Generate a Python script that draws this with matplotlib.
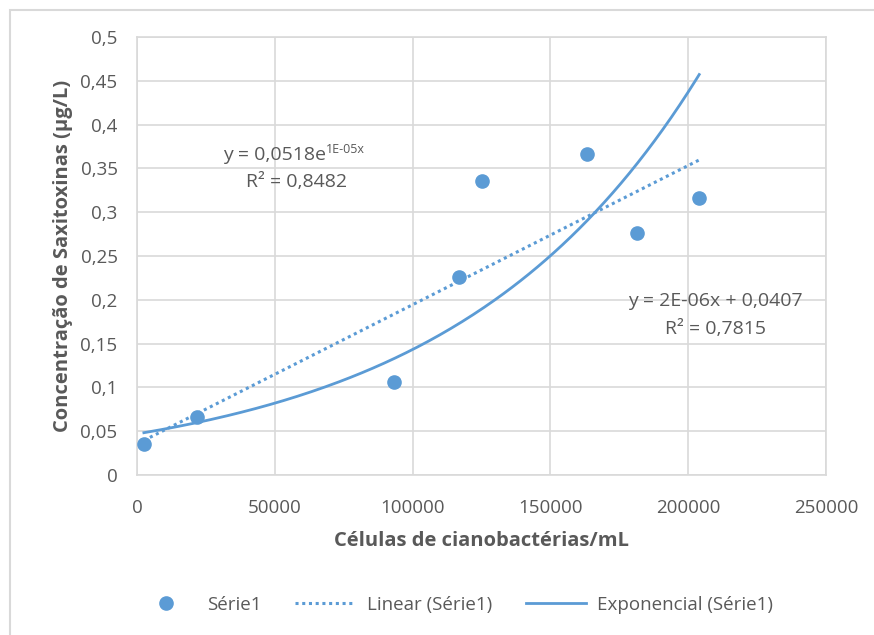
"""
Saxitoxin concentration vs cyanobacteria cell count, with Excel-style trendlines.

Output:
    out.png
"""

import numpy as np
import matplotlib

matplotlib.use("Agg")
import matplotlib.pyplot as plt
from matplotlib.lines import Line2D
from matplotlib.patches import Rectangle
from matplotlib.ticker import FuncFormatter, MultipleLocator


# ---------------------------------------------------------------------
# Data
# ---------------------------------------------------------------------

cells = [2500, 21700, 93400, 116900, 125300, 163100, 181300, 204000]
saxitoxin = [0.035, 0.066, 0.106, 0.226, 0.336, 0.366, 0.276, 0.316]

series_name = "Série1"
exp_label = ["y = 0,0518e", "1E-05x", "R² = 0,8482"]
lin_label = ["y = 2E-06x + 0,0407", "R² = 0,7815"]

BLUE = "#5b9bd5"
GRID = "#d9d9d9"
TEXT = "#595959"

plt.rcParams["font.family"] = ["Open Sans", "DejaVu Sans"]


def comma(v, _pos):
    return f"{v:g}".replace(".", ",")


def main():
    x = np.array(cells, dtype=float)
    y = np.array(saxitoxin, dtype=float)

    # trendlines fitted the way Excel does it
    lin = np.polyfit(x, y, 1)
    expo = np.polyfit(x, np.log(y), 1)
    xs = np.linspace(x.min(), x.max(), 200)

    fig = plt.figure(figsize=(8.74, 6.35), dpi=100)
    ax = fig.add_axes([137 / 874, 1 - 475 / 635, 689 / 874, 438 / 635])

    ax.plot(xs, np.polyval(lin, xs), ls=(0, (1, 1.2)), color=BLUE, lw=2.2, zorder=3)
    ax.plot(xs, np.exp(np.polyval(expo, xs)), color=BLUE, lw=2.0, zorder=3)
    ax.plot(x, y, "o", color=BLUE, ms=9.5, zorder=4)

    ax.set_xlim(0, 250000)
    ax.set_ylim(0, 0.5)
    ax.xaxis.set_major_locator(MultipleLocator(50000))
    ax.yaxis.set_major_locator(MultipleLocator(0.05))
    ax.yaxis.set_major_formatter(FuncFormatter(comma))
    ax.xaxis.set_major_formatter(FuncFormatter(lambda v, p: f"{v:.0f}"))

    ax.grid(True, color=GRID, lw=1.2)
    ax.set_axisbelow(True)
    for sp in ax.spines.values():
        sp.set_color(GRID)
        sp.set_linewidth(1.2)
    ax.tick_params(length=0, labelsize=13.5, labelcolor=TEXT)
    ax.tick_params(axis="x", pad=17)
    ax.tick_params(axis="y", pad=14)

    ax.set_xlabel("Células de cianobactérias/mL", fontsize=14.5, fontweight="bold",
                  color=TEXT, labelpad=10)
    ax.set_ylabel("Concentração de Saxitoxinas (μg/L)", fontsize=14.5,
                  fontweight="bold", color=TEXT, labelpad=5)

    # trendline equations
    eq = ax.text(50000, 0.365, exp_label[0], ha="center", va="center",
                 fontsize=14, color=TEXT)
    ax.annotate(exp_label[1], xy=(1, 0.8), xycoords=eq, ha="left", va="center",
                fontsize=9, color=TEXT)
    ax.text(58000, 0.334, exp_label[2], ha="center", va="center", fontsize=14, color=TEXT)
    ax.text(210000, 0.199, lin_label[0], ha="center", va="center", fontsize=14, color=TEXT)
    ax.text(210000, 0.167, lin_label[1], ha="center", va="center", fontsize=14, color=TEXT)

    handles = [
        Line2D([], [], ls="", marker="o", color=BLUE, ms=9.5),
        Line2D([], [], ls=(0, (1, 1.2)), color=BLUE, lw=2.2),
        Line2D([], [], color=BLUE, lw=2.0),
    ]
    labels = [series_name, f"Linear ({series_name})", f"Exponencial ({series_name})"]
    leg = fig.legend(handles, labels, loc="center", bbox_to_anchor=(0.52, 1 - 605 / 635),
                     ncol=3, frameon=False, fontsize=13.5, handlelength=3.2,
                     columnspacing=1.8, handletextpad=0.6)
    for t in leg.get_texts():
        t.set_color(TEXT)

    # chart area frame (cropped on the right and bottom in the source)
    fig.patches.append(Rectangle((10 / 874, -0.1), 1.2, 1 - 10 / 635 + 0.1,
                                 transform=fig.transFigure, fill=False,
                                 edgecolor=GRID, lw=1.5))

    fig.savefig("out.png", dpi=100)
    plt.close(fig)


if __name__ == "__main__":
    main()
